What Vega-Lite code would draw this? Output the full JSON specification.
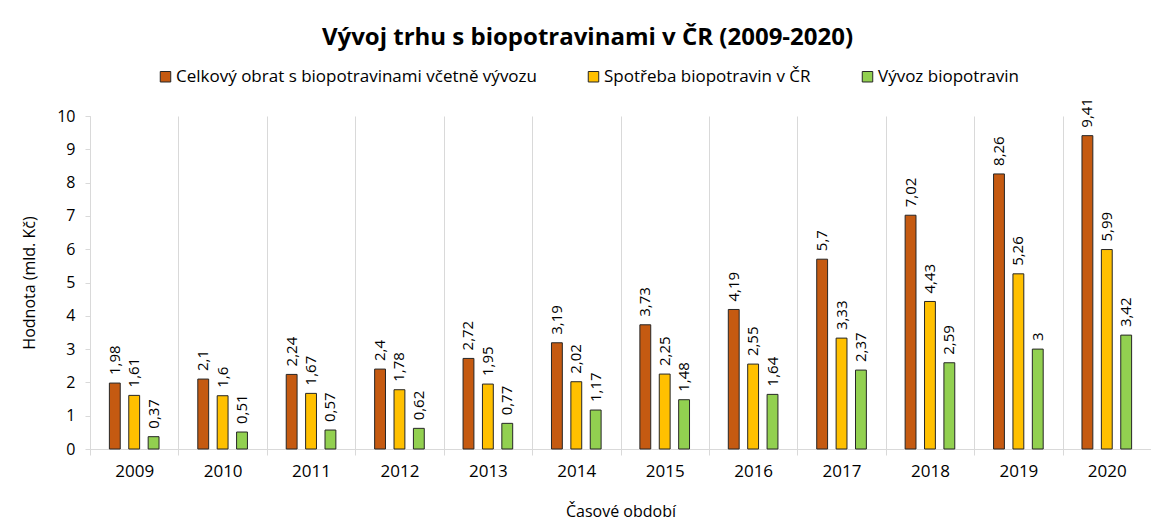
{
  "$schema": "https://vega.github.io/schema/vega-lite/v6.json",
  "autosize": {"type": "none"},
  "padding": {"left": 90, "top": 116, "right": 0, "bottom": 72},
  "width": 1061,
  "height": 333,
  "background": "white",
  "config": {
    "locale": {"number": {"decimal": ",", "thousands": " ", "grouping": [3], "currency": ["", " Kč"]}},
    "view": {"stroke": null},
    "font": "Open Sans"
  },
  "title": {
    "text": "Vývoj trhu s biopotravinami v ČR (2009-2020)",
    "font": "Open Sans",
    "fontSize": 24,
    "fontWeight": "bold",
    "color": "#000000",
    "anchor": "middle",
    "frame": "group",
    "dx": -33,
    "offset": 18
  },
  "data": {
    "values": [
      {"rok": "2009", "serie": "Celkový obrat s biopotravinami včetně vývozu", "hodnota": 1.98},
      {"rok": "2009", "serie": "Spotřeba biopotravin v ČR", "hodnota": 1.61},
      {"rok": "2009", "serie": "Vývoz biopotravin", "hodnota": 0.37},
      {"rok": "2010", "serie": "Celkový obrat s biopotravinami včetně vývozu", "hodnota": 2.1},
      {"rok": "2010", "serie": "Spotřeba biopotravin v ČR", "hodnota": 1.6},
      {"rok": "2010", "serie": "Vývoz biopotravin", "hodnota": 0.51},
      {"rok": "2011", "serie": "Celkový obrat s biopotravinami včetně vývozu", "hodnota": 2.24},
      {"rok": "2011", "serie": "Spotřeba biopotravin v ČR", "hodnota": 1.67},
      {"rok": "2011", "serie": "Vývoz biopotravin", "hodnota": 0.57},
      {"rok": "2012", "serie": "Celkový obrat s biopotravinami včetně vývozu", "hodnota": 2.4},
      {"rok": "2012", "serie": "Spotřeba biopotravin v ČR", "hodnota": 1.78},
      {"rok": "2012", "serie": "Vývoz biopotravin", "hodnota": 0.62},
      {"rok": "2013", "serie": "Celkový obrat s biopotravinami včetně vývozu", "hodnota": 2.72},
      {"rok": "2013", "serie": "Spotřeba biopotravin v ČR", "hodnota": 1.95},
      {"rok": "2013", "serie": "Vývoz biopotravin", "hodnota": 0.77},
      {"rok": "2014", "serie": "Celkový obrat s biopotravinami včetně vývozu", "hodnota": 3.19},
      {"rok": "2014", "serie": "Spotřeba biopotravin v ČR", "hodnota": 2.02},
      {"rok": "2014", "serie": "Vývoz biopotravin", "hodnota": 1.17},
      {"rok": "2015", "serie": "Celkový obrat s biopotravinami včetně vývozu", "hodnota": 3.73},
      {"rok": "2015", "serie": "Spotřeba biopotravin v ČR", "hodnota": 2.25},
      {"rok": "2015", "serie": "Vývoz biopotravin", "hodnota": 1.48},
      {"rok": "2016", "serie": "Celkový obrat s biopotravinami včetně vývozu", "hodnota": 4.19},
      {"rok": "2016", "serie": "Spotřeba biopotravin v ČR", "hodnota": 2.55},
      {"rok": "2016", "serie": "Vývoz biopotravin", "hodnota": 1.64},
      {"rok": "2017", "serie": "Celkový obrat s biopotravinami včetně vývozu", "hodnota": 5.7},
      {"rok": "2017", "serie": "Spotřeba biopotravin v ČR", "hodnota": 3.33},
      {"rok": "2017", "serie": "Vývoz biopotravin", "hodnota": 2.37},
      {"rok": "2018", "serie": "Celkový obrat s biopotravinami včetně vývozu", "hodnota": 7.02},
      {"rok": "2018", "serie": "Spotřeba biopotravin v ČR", "hodnota": 4.43},
      {"rok": "2018", "serie": "Vývoz biopotravin", "hodnota": 2.59},
      {"rok": "2019", "serie": "Celkový obrat s biopotravinami včetně vývozu", "hodnota": 8.26},
      {"rok": "2019", "serie": "Spotřeba biopotravin v ČR", "hodnota": 5.26},
      {"rok": "2019", "serie": "Vývoz biopotravin", "hodnota": 3},
      {"rok": "2020", "serie": "Celkový obrat s biopotravinami včetně vývozu", "hodnota": 9.41},
      {"rok": "2020", "serie": "Spotřeba biopotravin v ČR", "hodnota": 5.99},
      {"rok": "2020", "serie": "Vývoz biopotravin", "hodnota": 3.42}
    ]
  },
  "encoding": {
    "x": {
      "field": "rok",
      "type": "nominal",
      "scale": {"paddingInner": 0, "paddingOuter": 0},
      "axis": {
        "title": "Časové období",
        "titleFont": "Open Sans",
        "titleFontSize": 16,
        "titleFontWeight": "normal",
        "titleColor": "#000000",
        "titlePadding": 24,
        "labelAngle": 0,
        "labelFont": "Open Sans",
        "labelFontSize": 17,
        "labelColor": "#000000",
        "labelPadding": 8,
        "tickBand": "extent",
        "grid": true,
        "gridColor": "#d9d9d9",
        "gridWidth": 1,
        "domainColor": "#d9d9d9",
        "tickColor": "#d9d9d9",
        "tickSize": 6
      }
    },
    "xOffset": {
      "field": "serie",
      "type": "nominal",
      "sort": ["Celkový obrat s biopotravinami včetně vývozu", "Spotřeba biopotravin v ČR", "Vývoz biopotravin"],
      "scale": {"paddingInner": 0.44, "paddingOuter": 1.18}
    },
    "y": {
      "field": "hodnota",
      "type": "quantitative",
      "scale": {"domain": [0, 10], "nice": false},
      "axis": {
        "title": "Hodnota (mld. Kč)",
        "titleFont": "Open Sans",
        "titleFontSize": 16,
        "titleFontWeight": "normal",
        "titleColor": "#000000",
        "titlePadding": 19,
        "values": [0, 1, 2, 3, 4, 5, 6, 7, 8, 9, 10],
        "labelFont": "Open Sans",
        "labelFontSize": 16,
        "labelColor": "#000000",
        "labelPadding": 10,
        "grid": false,
        "domainColor": "#d9d9d9",
        "tickColor": "#d9d9d9",
        "tickSize": 5
      }
    }
  },
  "layer": [
    {
      "mark": {"type": "bar", "stroke": "#262626", "strokeWidth": 1},
      "encoding": {
        "color": {
          "field": "serie",
          "type": "nominal",
          "sort": ["Celkový obrat s biopotravinami včetně vývozu", "Spotřeba biopotravin v ČR", "Vývoz biopotravin"],
          "scale": {
            "domain": ["Celkový obrat s biopotravinami včetně vývozu", "Spotřeba biopotravin v ČR", "Vývoz biopotravin"],
            "range": ["#C55A11", "#FFC000", "#92D050"]
          },
          "legend": {
            "title": null,
            "orient": "none",
            "direction": "horizontal",
            "legendX": 67,
            "legendY": -48,
            "padding": 0,
            "symbolType": "square",
            "symbolSize": 110,
            "symbolStrokeColor": "#262626",
            "symbolStrokeWidth": 1,
            "symbolOpacity": 1,
            "labelFont": "Open Sans",
            "labelFontSize": 17,
            "labelColor": "#000000",
            "labelLimit": 500,
            "labelOffset": 2,
            "columnPadding": 48
          }
        }
      }
    },
    {
      "mark": {"type": "text", "angle": 270, "align": "left", "baseline": "middle", "dx": 8, "font": "Open Sans", "fontSize": 15, "color": "#000000"},
      "encoding": {
        "text": {"field": "hodnota", "type": "quantitative", "format": ".2~f"}
      }
    }
  ]
}
